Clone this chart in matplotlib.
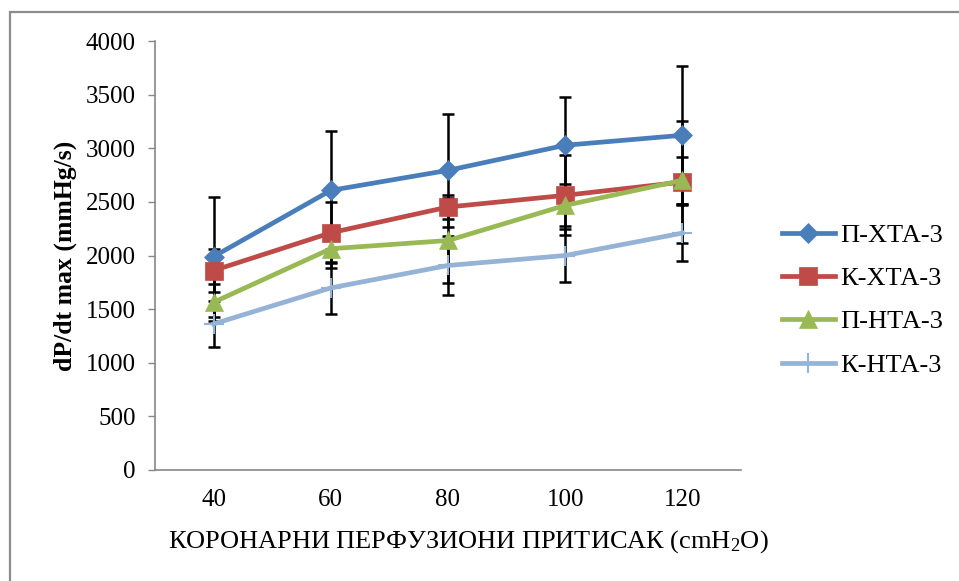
import matplotlib
matplotlib.use("Agg")
import matplotlib.pyplot as plt
from matplotlib.patches import Rectangle

plt.rcParams['font.family'] = ['Liberation Serif', 'DejaVu Serif']
plt.rcParams['mathtext.fontset'] = 'custom'
plt.rcParams['mathtext.rm'] = 'Liberation Serif'
plt.rcParams['mathtext.it'] = 'Liberation Serif:italic'

pressure = ['40', '60', '80', '100', '120']
series_names = ['П-ХТА-3', 'К-ХТА-3', 'П-НТА-3', 'К-НТА-3']

p_hta = [1990, 2607, 2794, 3028, 3121]
p_hta_sd = [560, 550, 530, 451, 643]
k_hta = [1860, 2212, 2452, 2561, 2685]
k_hta_sd = [203, 286, 109, 374, 570]
p_nta = [1564, 2063, 2140, 2467, 2701]
p_nta_sd = [172, 178, 395, 196, 218]
k_nta = [1362, 1698, 1907, 2000, 2209]
k_nta_sd = [212, 243, 271, 243, 262]

values = [p_hta, k_hta, p_nta, k_nta]
errors = [p_hta_sd, k_hta_sd, p_nta_sd, k_nta_sd]
colors = ['#4A7EBB', '#BE4B48', '#98B954', '#95B3D7']
markers = ['D', 's', '^', '+']
msizes = [10, 13, 13, 14]

fig = plt.figure(figsize=(9.59, 5.81), dpi=100)
ax = fig.add_axes([155 / 959, 1 - 470 / 581, 586 / 959, 429 / 581])

x = list(range(len(pressure)))
for vals, err in zip(values, errors):
    ax.errorbar(x, vals, yerr=err, fmt='none', ecolor='black', elinewidth=1.8,
                capsize=4.3, capthick=1.8, zorder=1)

for i, (vals, name) in enumerate(zip(values, series_names)):
    ax.plot(x, vals, color=colors[i], lw=3.4, marker=markers[i], markersize=msizes[i],
            markeredgewidth=1.5 if markers[i] == '+' else 0.5,
            markeredgecolor=colors[i], label=name, zorder=2 + i)

ax.set_xlim(-0.5, 4.5)
ax.set_ylim(0, 4000)
ax.set_yticks(range(0, 4001, 500))
ax.set_xticks(x)
ax.set_xticklabels(pressure)
ax.tick_params(axis='y', length=5, width=1, color='#888888', labelsize=18, pad=9)
ax.tick_params(axis='x', length=0, labelsize=18, pad=14)
for s in ['top', 'right']:
    ax.spines[s].set_visible(False)
for s in ['left', 'bottom']:
    ax.spines[s].set_color('#888888')
    ax.spines[s].set_linewidth(1.2)

ax.set_ylabel('dP/dt max (mmHg/s)', fontsize=18.5, fontweight='bold', labelpad=6)
ax.set_xlabel('КОРОНАРНИ ПЕРФУЗИОНИ ПРИТИСАК (cmH$_2$O)', fontsize=19)
ax.xaxis.set_label_coords((468 - 155) / 586, -0.135)

leg = ax.legend(loc='center left', bbox_to_anchor=(1.07, 0.396), frameon=False, fontsize=19,
                handlelength=2.0, labelspacing=0.75, handletextpad=0.2, borderpad=0,
                borderaxespad=0)

fig.add_artist(Rectangle((10 / 959, -0.1), 1.0, 1.1 - 12 / 581, transform=fig.transFigure,
                         fill=False, edgecolor='#8C8C8C', lw=1.6))

fig.savefig('out.png', dpi=100)
